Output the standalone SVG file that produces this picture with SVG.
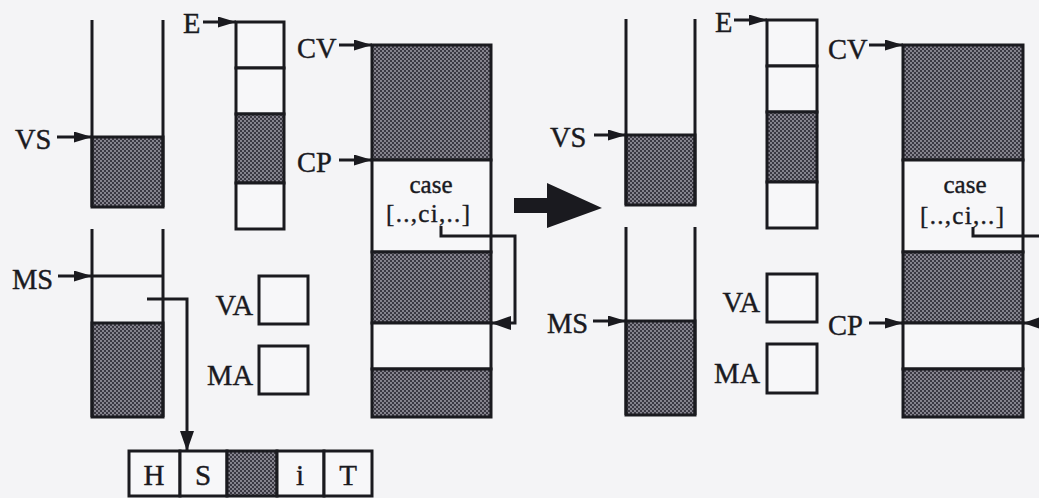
<svg xmlns="http://www.w3.org/2000/svg" width="1039" height="498" viewBox="0 0 1039 498">
<style>
.o{fill:none;stroke:#1a1a1f;stroke-width:3}
.w{fill:#f7f7f9;stroke:#1a1a1f;stroke-width:3}
.s{fill:url(#dots);stroke:#1a1a1f;stroke-width:3}
.t{font-family:"Liberation Serif","Times New Roman",serif;font-size:28.5px;fill:#1a1a1f;stroke:#1a1a1f;stroke-width:0.4}
.c{font-family:"Liberation Serif","Times New Roman",serif;font-size:25px;fill:#1a1a1f;stroke:#1a1a1f;stroke-width:0.4;text-anchor:middle}
.b{font-family:"Liberation Serif","Times New Roman",serif;font-size:29px;fill:#1a1a1f;stroke:#1a1a1f;stroke-width:0.4;text-anchor:middle}
.ln{fill:none;stroke:#1a1a1f;stroke-width:3}
.hd{fill:#1a1a1f}
</style>
<defs>
<pattern id="dots" width="4" height="4" patternUnits="userSpaceOnUse">
<rect width="4" height="4" fill="#3a3842"/>
<circle cx="1" cy="1" r="0.9" fill="#a9a7b1"/>
<circle cx="3" cy="3" r="0.9" fill="#a9a7b1"/>
</pattern>
<marker id="ah" viewBox="0 0 18 11" refX="18" refY="5.5" markerWidth="18" markerHeight="11" markerUnits="userSpaceOnUse" orient="auto">
<path d="M0,0 L18,5.5 L0,11 Z" class="hd"/>
</marker>
<marker id="ahb" viewBox="0 0 20 14" refX="20" refY="7" markerWidth="20" markerHeight="14" markerUnits="userSpaceOnUse" orient="auto">
<path d="M0,0 L20,7 L0,14 Z" class="hd"/>
</marker>
</defs>
<rect width="1039" height="498" fill="#f4f4f6"/>

<!-- LEFT STATE -->
<g id="vs-stack-left">
<rect x="92" y="137" width="71" height="70" class="s"/>
<path d="M92,20 V207 M163,20 V207" class="o"/>
<text x="15" y="149" class="t">VS</text>
</g>
<g id="e-column-left">
<rect x="236" y="22" width="48" height="46" class="w"/>
<rect x="236" y="68" width="48" height="46" class="w"/>
<rect x="236" y="114" width="48" height="69" class="s"/>
<rect x="236" y="183" width="48" height="46" class="w"/>
<text x="183" y="33" class="t">E</text>
</g>
<g id="ms-stack-left">
<rect x="92" y="323" width="71" height="94" class="s"/>
<path d="M92,229 V417 M163,229 V417 M92,276 H163" class="o"/>
<text x="12" y="289" class="t">MS</text>
</g>
<g id="va-left">
<rect x="259" y="276" width="49" height="48" class="w"/>
<text x="253" y="315" class="t" text-anchor="end">VA</text>
</g>
<g id="ma-left">
<rect x="259" y="346" width="49" height="48" class="w"/>
<text x="253" y="385" class="t" text-anchor="end">MA</text>
</g>
<g id="cv-column-left">
<rect x="372" y="45" width="119" height="115" class="s"/>
<rect x="372" y="160" width="119" height="92" class="w"/>
<rect x="372" y="252" width="119" height="71" class="s"/>
<rect x="372" y="323" width="119" height="46" class="w"/>
<rect x="372" y="369" width="119" height="48" class="s"/>
<text x="431" y="193" class="c">case</text>
<text x="428" y="222" class="c" textLength="84" lengthAdjust="spacing">[..,ci,..]</text>
<text x="297" y="58" class="t">CV</text>
<text x="297" y="172" class="t">CP</text>
</g>
<g id="hs-table">
<rect x="129" y="451" width="51" height="45" class="w"/>
<rect x="180" y="451" width="47" height="45" class="w"/>
<rect x="227" y="451" width="50" height="45" class="s"/>
<rect x="277" y="451" width="47" height="45" class="w"/>
<rect x="324" y="451" width="48" height="45" class="w"/>
<text x="154" y="485" class="b">H</text>
<text x="203" y="485" class="b">S</text>
<text x="300" y="485" class="b">i</text>
<text x="348" y="485" class="b">T</text>
</g>

<!-- TRANSITION ARROW -->
<g id="big-arrow">
<path d="M514,198 H547 V183 L602,208 L547,228 V213 H514 Z" class="hd"/>
</g>

<!-- RIGHT STATE -->
<g id="vs-stack-right">
<rect x="626" y="135" width="69" height="70" class="s"/>
<path d="M626,19 V205 M695,19 V205" class="o"/>
<text x="550" y="147" class="t">VS</text>
</g>
<g id="e-column-right">
<rect x="767" y="20" width="50" height="46" class="w"/>
<rect x="767" y="66" width="50" height="46" class="w"/>
<rect x="767" y="112" width="50" height="70" class="s"/>
<rect x="767" y="182" width="50" height="46" class="w"/>
<text x="715" y="32" class="t">E</text>
</g>
<g id="ms-stack-right">
<rect x="626" y="321" width="69" height="94" class="s"/>
<path d="M626,227 V415 M695,227 V415" class="o"/>
<text x="547" y="333" class="t">MS</text>
</g>
<g id="va-right">
<rect x="767" y="274" width="50" height="48" class="w"/>
<text x="760" y="312" class="t" text-anchor="end">VA</text>
</g>
<g id="ma-right">
<rect x="767" y="344" width="50" height="49" class="w"/>
<text x="760" y="383" class="t" text-anchor="end">MA</text>
</g>
<g id="cv-column-right">
<rect x="903" y="45" width="120" height="115" class="s"/>
<rect x="903" y="160" width="120" height="92" class="w"/>
<rect x="903" y="252" width="120" height="71" class="s"/>
<rect x="903" y="323" width="120" height="46" class="w"/>
<rect x="903" y="369" width="120" height="48" class="s"/>
<text x="965" y="193" class="c">case</text>
<text x="962" y="224" class="c" textLength="84" lengthAdjust="spacing">[..,ci,..]</text>
<text x="828" y="59" class="t">CV</text>
<text x="828" y="335" class="t">CP</text>
</g>

<!-- CONNECTORS -->
<g id="connectors">
<path d="M57,137 H92" class="ln" marker-end="url(#ah)"/>
<path d="M203,22 H236" class="ln" marker-end="url(#ah)"/>
<path d="M58,276 H92" class="ln" marker-end="url(#ah)"/>
<path d="M339,45 H372" class="ln" marker-end="url(#ah)"/>
<path d="M339,160 H372" class="ln" marker-end="url(#ah)"/>
<path d="M147,299 H187 V451" class="ln" marker-end="url(#ahb)"/>
<path d="M441,226 V236 H515 V323 H491" class="ln" marker-end="url(#ahb)"/>
<path d="M594,135 H626" class="ln" marker-end="url(#ah)"/>
<path d="M734,20 H767" class="ln" marker-end="url(#ah)"/>
<path d="M593,321 H626" class="ln" marker-end="url(#ah)"/>
<path d="M869,45 H903" class="ln" marker-end="url(#ah)"/>
<path d="M869,323 H903" class="ln" marker-end="url(#ah)"/>
<path d="M973,227 V236 H1041" class="ln"/>
<path d="M1045,323 H1023" class="ln" marker-end="url(#ahb)"/>
</g>
</svg>
